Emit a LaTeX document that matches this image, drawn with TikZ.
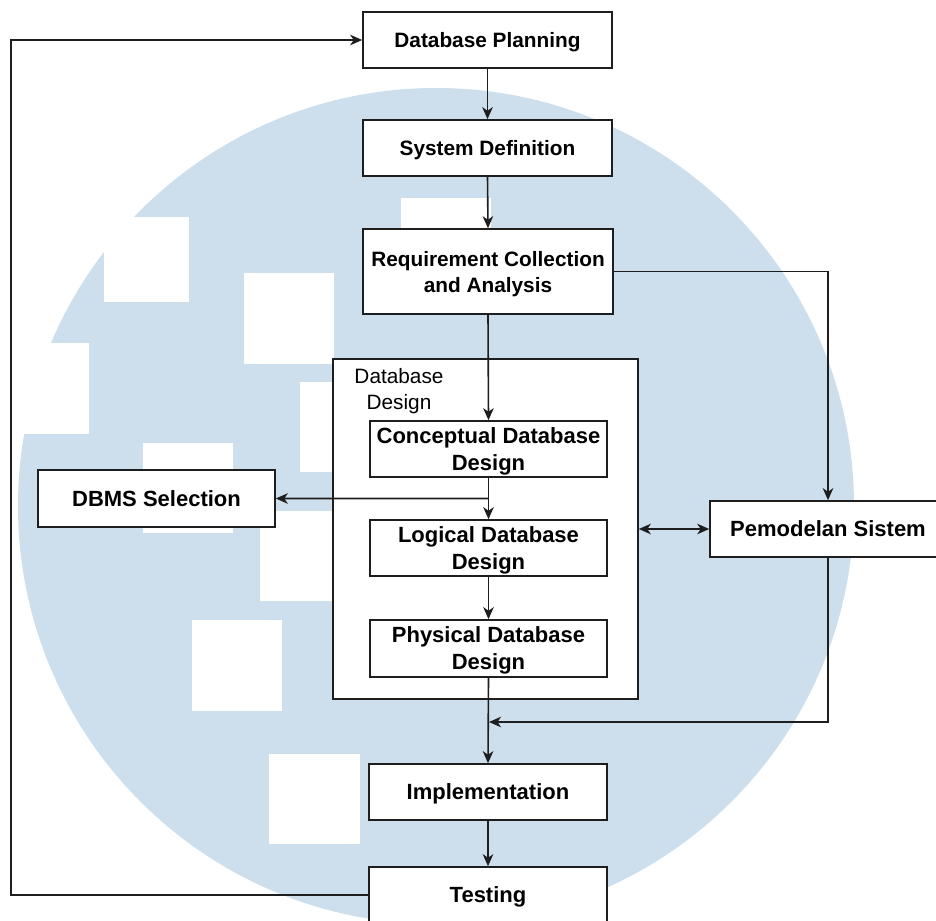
\documentclass[tikz,border=0pt]{standalone}
\usepackage{fontspec}
\setmainfont{Liberation Sans}
\usetikzlibrary{arrows.meta,calc}
\definecolor{wmblue}{RGB}{205,222,237}
\definecolor{linecol}{RGB}{30,30,30}
\tikzset{
  tip/.tip={Stealth[length=12pt,width=10.5pt,inset=3.5pt]},
  box/.style={draw=linecol, line width=1.6pt, fill=white, inner sep=0pt, align=center,
    text depth=0pt,
    minimum width=237pt, minimum height=56pt, font=\bfseries\fontsize{22}{27}\selectfont},
  topbox/.style={box, minimum width=249pt, font=\bfseries\fontsize{20.8}{26}\selectfont},
  groupbox/.style={draw=linecol, line width=1.6pt, fill=white, inner sep=0pt,
    minimum width=305pt, minimum height=340pt},
  conn/.style={draw=linecol, line width=1.6pt, -tip},
  biconn/.style={draw=linecol, line width=1.6pt, tip-tip},
  wmsq/.style={fill=white, draw=none}
}
\begin{document}
\begin{tikzpicture}[x=1pt, y=-1pt]
\useasboundingbox (0,0) rectangle (936,920);
\clip (0,0) rectangle (936,920);
\fill[white] (0,0) rectangle (936,920);
% watermark background
\fill[wmblue] (436,506) circle (418pt);
\fill[wmsq] (104,217) rectangle (189,302);
\fill[wmsq] (244,273) rectangle (334,364);
\fill[wmsq] (0,343) rectangle (89,434);
\fill[wmsq] (143,443) rectangle (233,533);
\fill[wmsq] (300,382) rectangle (390,472);
\fill[wmsq] (260,511) rectangle (350,601);
\fill[wmsq] (192,620) rectangle (282,711);
\fill[wmsq] (269,754) rectangle (360,844);
\fill[wmsq] (401,198) rectangle (491,288);

% nodes
\node[topbox] (plan) at (487.5,40) {Database Planning};
\node[topbox] (sysdef) at (487.5,148) {System Definition};
\node[topbox, minimum width=250pt, minimum height=85pt] (req) at (488,271.5) {Requirement Collection\\and Analysis};
\node[groupbox] (dd) at (485.5,529) {};
\node[font=\fontsize{20.8}{26}\selectfont, align=center, inner sep=0pt] (ddlabel) at (399,391) {Database\\Design};
\node[box] (concept) at (488.5,449) {Conceptual Database\\Design};
\node[box] (logical) at (488.5,548) {Logical Database\\Design};
\node[box, minimum height=57pt] (physical) at (488.5,648.5) {Physical Database\\Design};
\node[box, minimum height=57pt] (dbms) at (156.5,498.5) {DBMS Selection};
\node[box, minimum width=236pt] (pem) at (828,529) {Pemodelan Sistem};
\node[box, minimum width=238pt] (impl) at (488,792) {Implementation};
\node[box, minimum width=238pt] (test) at (488,895) {Testing};

\coordinate (j1) at ($(concept.south)!0.5!(logical.north)$);
\coordinate (j2) at (489,722);
\coordinate (lp) at (11,895);

% connectors
\draw[conn] (plan.south) -- (sysdef.north);
\draw[conn] (sysdef.south) -- (req.north);
\draw[conn] (req.south) -- (concept.north);
\draw[conn] (concept.south) -- (logical.north);
\draw[conn] (j1) -- (dbms.east);
\draw[conn] (logical.south) -- (physical.north);
\draw[conn] (physical.south) -- (impl.north);
\draw[conn] (req.east) -| (pem.north);
\draw[conn] (pem.south) |- (j2);
\draw[biconn] (dd.east) -- (pem.west);
\draw[conn] (impl.south) -- (test.north);
\draw[conn] (test.west) -- (lp) |- (plan.west);
\end{tikzpicture}
\end{document}
